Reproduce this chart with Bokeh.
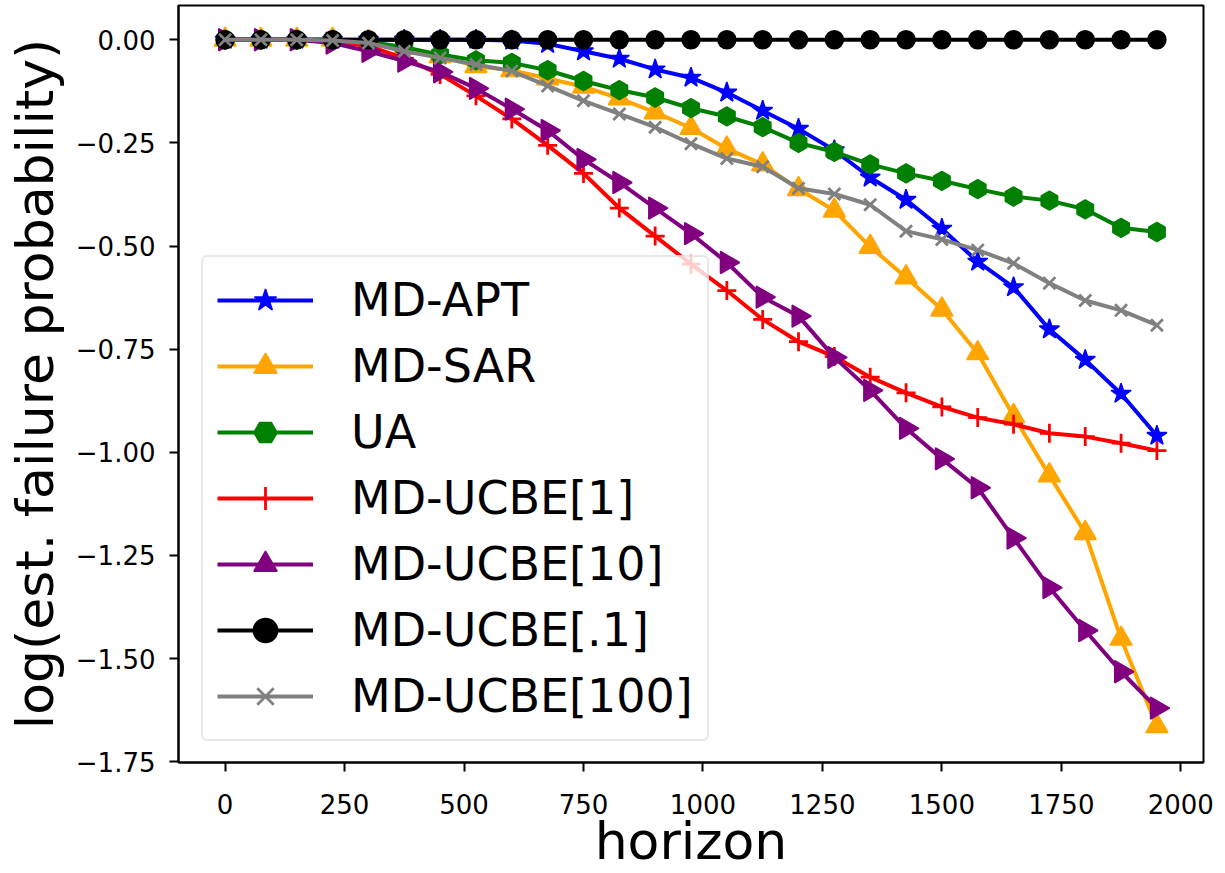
import numpy as np
from bokeh.plotting import figure
from bokeh.models import Legend, LegendItem, FixedTicker, Range1d
from bokeh.embed import file_html
from bokeh.resources import INLINE

# ---------------- data ----------------
horizon = [0, 75, 150, 225, 300, 375, 450, 525, 600, 675, 750, 825, 900, 975,
           1050, 1125, 1200, 1275, 1350, 1425, 1500, 1575, 1650, 1725, 1800, 1875, 1950]

md_apt = [0, 0, 0, 0, 0, 0, 0, 0, -0.002, -0.010, -0.028, -0.046, -0.072, -0.092,
          -0.128, -0.172, -0.216, -0.268, -0.334, -0.388, -0.458, -0.538, -0.600,
          -0.702, -0.776, -0.858, -0.960]
md_sar = [0, 0, 0, 0, -0.005, -0.020, -0.040, -0.064, -0.074, -0.094, -0.114, -0.142,
          -0.176, -0.214, -0.264, -0.302, -0.362, -0.414, -0.502, -0.576, -0.654,
          -0.760, -0.912, -1.056, -1.196, -1.452, -1.664]
ua = [0, 0, 0, 0, -0.005, -0.018, -0.036, -0.050, -0.056, -0.074, -0.100, -0.122,
      -0.140, -0.166, -0.186, -0.212, -0.250, -0.272, -0.302, -0.324, -0.342, -0.362,
      -0.380, -0.390, -0.411, -0.456, -0.466]
md_ucbe_1 = [0, 0, 0, -0.003, -0.015, -0.045, -0.084, -0.136, -0.192, -0.256, -0.324,
             -0.408, -0.476, -0.544, -0.608, -0.678, -0.732, -0.768, -0.818, -0.856,
             -0.890, -0.916, -0.932, -0.954, -0.962, -0.978, -0.996]
md_ucbe_10 = [0, 0, 0, -0.008, -0.028, -0.052, -0.078, -0.118, -0.168, -0.220, -0.290,
              -0.346, -0.408, -0.470, -0.540, -0.624, -0.670, -0.770, -0.850, -0.942,
              -1.016, -1.086, -1.208, -1.328, -1.432, -1.532, -1.620]
md_ucbe_01 = [0] * 27
md_ucbe_100 = [0, 0, 0, -0.002, -0.008, -0.028, -0.044, -0.060, -0.076, -0.112, -0.148,
               -0.180, -0.212, -0.252, -0.288, -0.308, -0.360, -0.374, -0.400, -0.464,
               -0.484, -0.510, -0.542, -0.590, -0.632, -0.656, -0.692]

series_names = ["MD-APT", "MD-SAR", "UA", "MD-UCBE[1]", "MD-UCBE[10]", "MD-UCBE[.1]", "MD-UCBE[100]"]
series_values = [md_apt, md_sar, ua, md_ucbe_1, md_ucbe_10, md_ucbe_01, md_ucbe_100]

x_ticks = [0, 250, 500, 750, 1000, 1250, 1500, 1750, 2000]
y_ticks = [0.0, -0.25, -0.5, -0.75, -1.0, -1.25, -1.5, -1.75]
y_tick_labels = ["0.00", "\u22120.25", "\u22120.50", "\u22120.75", "\u22121.00",
                 "\u22121.25", "\u22121.50", "\u22121.75"]

# ---------------- styles ----------------
styles = [
    dict(color="blue", marker="star", size=21, angle=0.0, lw=1.5),
    dict(color="orange", marker="triangle", size=22, angle=0.0, lw=1.5),
    dict(color="green", marker="hex", size=19, angle=np.pi / 2, lw=1.5),
    dict(color="red", marker="cross", size=19, angle=0.0, lw=2.8),
    dict(color="purple", marker="triangle", size=22, angle=-np.pi / 2, lw=1.5),
    dict(color="black", marker="circle", size=17, angle=0.0, lw=2.5),
    dict(color="gray", marker="x", size=17, angle=0.0, lw=2.8),
]

FONT = "DejaVu Sans"

p = figure(width=1224, height=873, output_backend="svg", toolbar_location=None,
           x_range=Range1d(-97.5, 2047.5), y_range=Range1d(-1.752, 0.083),
           min_border_left=178, min_border_right=21, min_border_top=5, min_border_bottom=105)

p.xgrid.visible = False
p.ygrid.visible = False
p.outline_line_color = "black"
p.outline_line_width = 2
p.outline_line_alpha = 1.0

for ax in (p.xaxis[0], p.yaxis[0]):
    ax.axis_line_width = 2
    ax.major_tick_line_width = 2
    ax.major_tick_out = 9
    ax.major_tick_in = 0
    ax.minor_tick_out = 0
    ax.minor_tick_in = 0
    ax.major_label_text_font = FONT
    ax.major_label_text_font_size = "26px"
    ax.major_label_text_color = "black"
    ax.axis_label_text_font = FONT
    ax.axis_label_text_font_size = "52px"
    ax.axis_label_text_font_style = "normal"
    ax.axis_label_text_color = "black"
    ax.axis_label_text_line_height = 1.0
    ax.major_label_text_line_height = 1.0

p.xaxis.major_label_standoff = 22
p.yaxis.major_label_standoff = 14
p.xaxis.ticker = FixedTicker(ticks=x_ticks)
p.yaxis.ticker = FixedTicker(ticks=y_ticks)
p.yaxis.major_label_overrides = {t: l for t, l in zip(y_ticks, y_tick_labels)}
p.xaxis.axis_label = "horizon"
p.yaxis.axis_label = "log(est. failure probability)"
p.xaxis.axis_label_standoff = -6
p.yaxis.axis_label_standoff = 8

items = []
for name, vals, st in zip(series_names, series_values, styles):
    ln = p.line(horizon, vals, line_color=st["color"], line_width=4, line_join="round")
    sc = p.scatter(horizon, vals, marker=st["marker"], size=st["size"], angle=st["angle"],
                   fill_color=st["color"], line_color=st["color"], line_width=st["lw"])
    items.append(LegendItem(label=name, renderers=[ln, sc]))

legend = Legend(items=items, location=(23, 21))
legend.label_text_font = FONT
legend.label_text_font_size = "46px"
legend.label_text_color = "black"
legend.glyph_width = 96
legend.glyph_height = 58
legend.label_height = 58
legend.label_standoff = 38
legend.padding = 14
legend.spacing = 8
legend.margin = 0
legend.border_line_color = "#d0d0d0"
legend.border_line_width = 2
legend.background_fill_color = "white"
legend.background_fill_alpha = 0.8
try:
    legend.border_radius = 6
except Exception:
    pass
p.add_layout(legend)

open("out.html", "w").write(file_html(p, INLINE))
